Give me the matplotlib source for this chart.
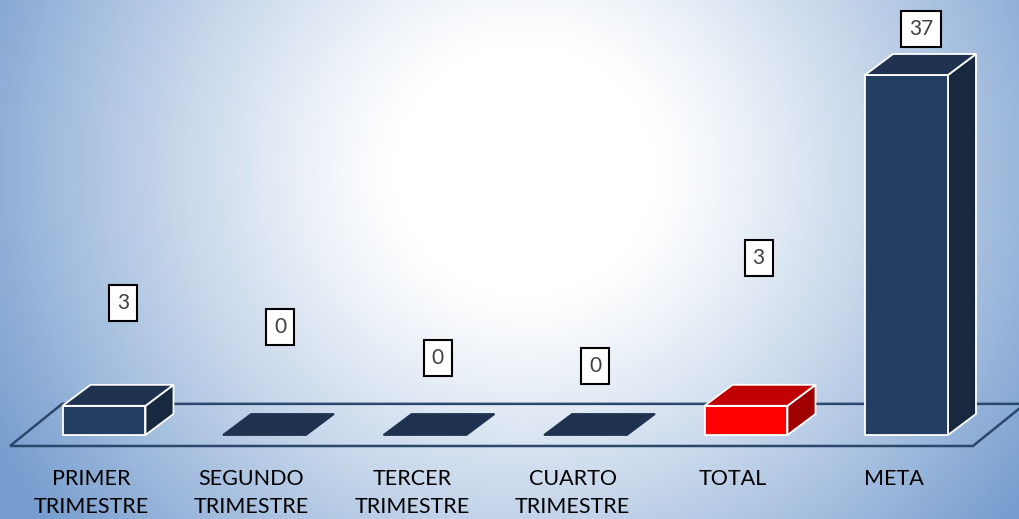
import matplotlib.pyplot as plt
from matplotlib.patches import Polygon
import numpy as np

# chart data
categories = ["PRIMER\nTRIMESTRE", "SEGUNDO\nTRIMESTRE", "TERCER\nTRIMESTRE",
              "CUARTO\nTRIMESTRE", "TOTAL", "META"]
values = [3, 0, 0, 0, 3, 37]
value_labels = ["3", "0", "0", "0", "3", "37"]
highlight = [False, False, False, False, True, False]

# hand-placed label positions (as in the original slide)
label_dx = [0.20, 0.18, 0.16, 0.14, 0.16, 0.17]
label_y = [13.6, 11.1, 7.9, 7.1, 18.2, 41.7]

plt.rcParams['font.family'] = ['Lato', 'DejaVu Sans']

W, H = 1019, 519
fig = plt.figure(figsize=(W / 100, H / 100), dpi=100)
ax = fig.add_axes([0, 0, 1, 1])
ax.set_xlim(-91 / 160.5, (W - 91) / 160.5)
ax.set_ylim(-84 / 9.73, 435 / 9.73)
ax.axis('off')

# radial gradient background
yy, xx = np.mgrid[0:H, 0:W]
d = np.sqrt((xx - 525) ** 2 + ((yy - 170) * 1.05) ** 2)
t = np.clip((d - 130) / 470, 0, 1)
t = t ** 1.15
white = np.array([1.0, 1.0, 1.0])
blue = np.array([120, 158, 207]) / 255
img = white[None, None, :] * (1 - t[..., None]) + blue[None, None, :] * t[..., None]
ax.imshow(img, extent=[0, 1, 0, 1], transform=ax.transAxes, aspect='auto', zorder=0)

# floor
floor = Polygon([(-0.505, -1.13), (5.495, -1.13), (5.82, 3.2), (-0.18, 3.2)],
                closed=True, fill=False, edgecolor='#2b476b', lw=1.8, zorder=1)
ax.add_patch(floor)

bw = 0.517
off = 0.081
dx = 28 / 160.5
dy = 21 / 9.73

for i, v in enumerate(values):
    if highlight[i]:
        cf, ct, cs = '#ff0000', '#c00000', '#a00000'
    else:
        cf, ct, cs = '#243e62', '#1f3350', '#18283e'
    x0 = i + off - bw / 2
    x1 = x0 + bw
    ec = 'white' if v > 0 else ct
    if v > 0:
        ax.add_patch(Polygon([(x1, 0), (x1 + dx, dy), (x1 + dx, v + dy), (x1, v)],
                             closed=True, facecolor=cs, edgecolor=ec, lw=1.3, zorder=3))
        ax.add_patch(Polygon([(x0, 0), (x1, 0), (x1, v), (x0, v)],
                             closed=True, facecolor=cf, edgecolor=ec, lw=1.3, zorder=3))
    ax.add_patch(Polygon([(x0, v), (x1, v), (x1 + dx, v + dy), (x0 + dx, v + dy)],
                         closed=True, facecolor=ct, edgecolor=ec, lw=1.3, zorder=3))

    ax.text(i + label_dx[i], label_y[i], value_labels[i], ha='center', va='center',
            fontsize=15, color='#404040', zorder=5,
            bbox=dict(boxstyle='square,pad=0.38', facecolor='white',
                      edgecolor='black', lw=1.5))

    ax.text(i, -3.45, categories[i], ha='center', va='top', fontsize=15.5,
            color='black', linespacing=1.55, zorder=5)

fig.savefig('out.png', dpi=100)
